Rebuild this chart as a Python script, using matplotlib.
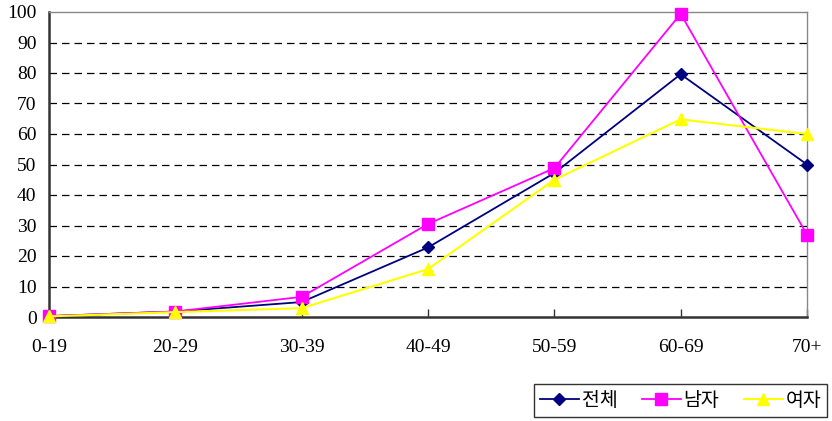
import matplotlib
matplotlib.use('Agg')
import matplotlib.pyplot as plt

plt.rcParams['font.family'] = ['Liberation Serif', 'Noto Sans CJK KR', 'DejaVu Sans']

age_groups = ['0-19', '20-29', '30-39', '40-49', '50-59', '60-69', '70+']
total = [0.3, 1.8, 4.9, 22.8, 47.2, 79.6, 50.0]
male = [0.3, 1.8, 6.6, 30.5, 48.8, 99.4, 27.0]
female = [0.2, 1.6, 2.9, 15.7, 45.0, 64.8, 60.0]

fig = plt.figure(figsize=(8.32, 4.21), dpi=100)
ax = fig.add_axes([49 / 832, 1 - 317 / 421, 758 / 832, 305 / 421])

x = range(len(age_groups))
ax.plot(x, total, color='#000080', lw=1.3, marker='D', ms=6.5, label='전체', clip_on=False, zorder=3)
ax.plot(x, male, color='#FF00FF', lw=1.3, marker='s', ms=8, label='남자', clip_on=False, zorder=4)
ax.plot(x, female, color='#FFFF00', lw=1.5, marker='^', ms=9, label='여자', clip_on=False, zorder=5)

ax.set_xlim(0, 6)
ax.set_ylim(0, 100)
ax.set_yticks(range(0, 101, 10))
ax.set_xticks(list(x))
ax.set_xticklabels(age_groups)

# dashed horizontal grid
for y in range(10, 100, 10):
    ax.axhline(y, color='black', lw=0.9, ls=(0, (6, 4)), zorder=1)

ax.tick_params(axis='x', direction='in', length=6, width=1, color='#333333', pad=16, labelsize=14)
ax.tick_params(axis='y', length=0, pad=9, labelsize=14)

for side in ['left', 'bottom']:
    ax.spines[side].set_color('#333333')
    ax.spines[side].set_linewidth(1.8)
for side in ['top', 'right']:
    ax.spines[side].set_color('#888888')
    ax.spines[side].set_linewidth(1.0)

leg = ax.legend(loc='lower right', bbox_to_anchor=(827 / 832, 4 / 421),
                bbox_transform=fig.transFigure, borderaxespad=0, ncol=3, frameon=True,
                fancybox=False, edgecolor='black', handlelength=2.0, handletextpad=0.15,
                columnspacing=1.25, borderpad=0.3,
                prop={'family': ['Noto Sans CJK KR', 'DejaVu Sans'], 'size': 14})
leg.get_frame().set_linewidth(1.0)

fig.savefig('out.png', dpi=100)
